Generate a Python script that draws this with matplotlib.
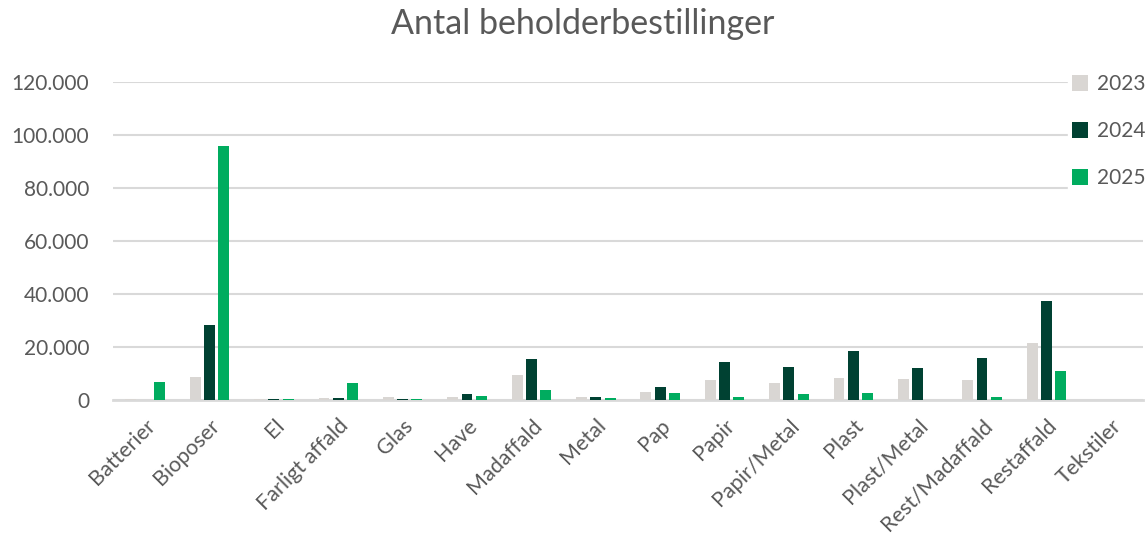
import numpy as np
from matplotlib import pyplot as plt

plt.rcParams['font.family'] = ['Lato', 'DejaVu Sans']

# Data
kategorier = ['Batterier', 'Bioposer', 'El', 'Farligt affald', 'Glas', 'Have',
              'Madaffald', 'Metal', 'Pap', 'Papir', 'Papir/Metal', 'Plast',
              'Plast/Metal', 'Rest/Madaffald', 'Restaffald', 'Tekstiler']
aar_2023 = [500, 8800, 500, 900, 1100, 1300, 9600, 1100, 2900, 7700, 6300,
            8400, 8100, 7600, 21400, 0]
aar_2024 = [0, 28300, 500, 900, 500, 2400, 15500, 1300, 4800, 14500, 12500,
            18600, 12200, 15700, 37400, 0]
aar_2025 = [6700, 95800, 500, 6400, 500, 1600, 3800, 900, 2500, 1300, 2100,
            2500, 0, 1100, 10800, 0]
serier = ['2023', '2024', '2025']
farver = ['#D9D6D3', '#004132', '#00AC5F']

fig = plt.figure(figsize=(11.48, 5.36), dpi=100)
ax = fig.add_axes([0.0984, 0.2537, 0.8972, 0.5933])

x = np.arange(len(kategorier))
bredde = 0.17
afstand = 0.222
for i, (vaerdier, navn, farve) in enumerate(zip([aar_2023, aar_2024, aar_2025], serier, farver)):
    ax.bar(x + (i - 1) * afstand, vaerdier, bredde, color=farve, label=navn, zorder=3)

ax.set_xlim(-0.5, len(kategorier) - 0.5)
ax.set_ylim(0, 120000)
ax.set_yticks(np.arange(0, 120001, 20000))
ax.set_yticklabels([f'{int(v):,}'.replace(',', '.') for v in ax.get_yticks()])
ax.set_xticks(x)
ax.set_xticklabels(kategorier, rotation=45, ha='right', rotation_mode='anchor')

ax.grid(axis='y', color='#D9D9D9', linewidth=1.5, zorder=0)
for s in ['top', 'right', 'left']:
    ax.spines[s].set_visible(False)
ax.spines['bottom'].set_color('#D9D9D9')
ax.spines['bottom'].set_linewidth(2)
ax.tick_params(axis='both', length=0, labelsize=15, labelcolor='#595959')
ax.tick_params(axis='y', pad=17)
ax.tick_params(axis='x', pad=11, labelsize=15.5)

leg = fig.legend(loc='upper left', bbox_to_anchor=(0.93, 0.87), fontsize=15,
                 frameon=True, facecolor='white', edgecolor='white', framealpha=1,
                 handlelength=0.8, handleheight=0.8, handletextpad=0.4,
                 labelspacing=1.3, borderpad=0.2, borderaxespad=0)
for t in leg.get_texts():
    t.set_color('#595959')

fig.suptitle('Antal beholderbestillinger', x=0.508, y=0.985, fontsize=24.5, color='#595959')

plt.savefig('out.png', dpi=100)
